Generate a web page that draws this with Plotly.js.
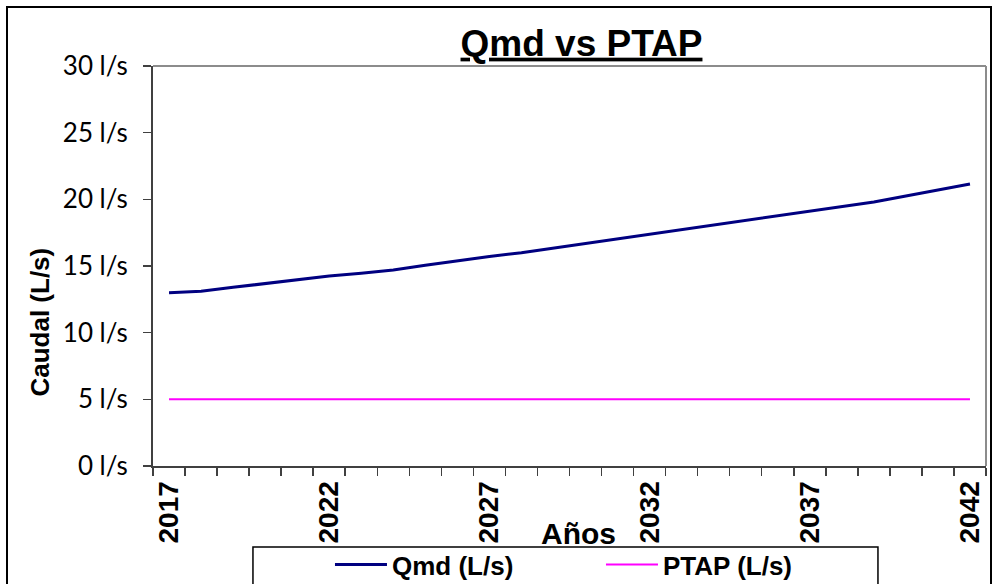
<!DOCTYPE html>
<html>
<head>
<meta charset="utf-8">
<script src="https://cdn.plot.ly/plotly-3.0.1.min.js"></script>
<style>
  html, body { margin: 0; padding: 0; background: #fff; overflow: hidden; }
  #chart { position: absolute; left: 0; top: 0; width: 993px; height: 584px; }
  #frame { position: absolute; left: 6px; top: 6px; width: 982px; height: 600px; border: 2px solid #000; pointer-events: none; }
</style>
</head>
<body>
<div id="chart"></div>
<div id="frame"></div>
<script>
const years = [2017,2018,2019,2020,2021,2022,2023,2024,2025,2026,2027,2028,2029,2030,2031,2032,2033,2034,2035,2036,2037,2038,2039,2040,2041,2042];
const qmd = [13.0,13.1,13.4,13.7,14.0,14.25,14.45,14.7,15.05,15.4,15.72,16.0,16.35,16.7,17.0,17.4,17.75,18.1,18.45,18.8,19.1,19.45,19.8,20.25,20.7,21.15];
const ptap = [5,5,5,5,5,5,5,5,5,5,5,5,5,5,5,5,5,5,5,5,5,5,5,5,5,5];
const tickYears = [2017,2022,2027,2032,2037,2042];
const yTicks = [0,5,10,15,20,25,30];

const traces = [
  { x: years, y: qmd, name: 'Qmd (L/s)', type: 'scatter', mode: 'lines',
    line: { color: '#000080', width: 3 } },
  { x: years, y: ptap, name: 'PTAP (L/s)', type: 'scatter', mode: 'lines',
    line: { color: '#FF00FF', width: 2 } }
];

const layout = {
  width: 993, height: 584,
  margin: { l: 153, r: 7, t: 66, b: 118 },
  paper_bgcolor: '#fff', plot_bgcolor: '#fff',
  showlegend: true,
  title: { text: '<b><u>Qmd vs PTAP</u></b>', xref: 'container', x: 0.5856, xanchor: 'center', y: 0.949, yanchor: 'top',
    font: { family: 'Liberation Sans, Arial, sans-serif', size: 37, color: '#000' } },
  xaxis: {
    type: 'linear', range: [2016.5, 2042.5], fixedrange: true, automargin: false,
    tickmode: 'array', tickvals: tickYears, ticktext: tickYears.map(String),
    ticks: '', tickangle: -90, ticklabelstandoff: 2,
    tickfont: { family: 'Liberation Sans, Arial, sans-serif', size: 28, color: '#000', weight: 'bold' },
    showgrid: false, zeroline: false,
    showline: true, linecolor: '#404040', linewidth: 2,
    minor: { ticks: 'outside', tick0: 2016.5, dtick: 1, ticklen: 8, tickcolor: '#404040', tickwidth: 1.5, showgrid: false }
  },
  yaxis: {
    range: [0, 30], fixedrange: true, automargin: false,
    tickmode: 'array', tickvals: yTicks, ticktext: yTicks.map(v => v + ' l/s'),
    ticks: 'outside', ticklen: 8, tickcolor: '#404040', tickwidth: 1.5, ticklabelstandoff: 10,
    tickfont: { family: 'Lato, Carlito, sans-serif', size: 26, color: '#000' },
    showgrid: false, zeroline: false,
    showline: true, linecolor: '#404040', linewidth: 2
  },
  shapes: [
    { type: 'line', xref: 'paper', yref: 'paper', x0: 0, x1: 1, y0: 1, y1: 1, line: { color: '#8c8c8c', width: 2 } },
    { type: 'line', xref: 'paper', yref: 'paper', x0: 1, x1: 1, y0: 0, y1: 1, line: { color: '#8c8c8c', width: 2 } },
    { type: 'rect', xref: 'paper', yref: 'paper', x0: 0.12, x1: 0.8703, y0: -0.2025, y1: -0.34, layer: 'above',
      line: { color: '#000', width: 1.5 } }
  ],
  annotations: [
    { text: '<b>Caudal (L/s)</b>', xref: 'paper', yref: 'paper', x: -0.1357, y: 0.361, xanchor: 'center', yanchor: 'middle',
      textangle: -90, showarrow: false, font: { family: 'Liberation Sans, Arial, sans-serif', size: 26, color: '#000' } },
    { text: '<b>Años</b>', xref: 'paper', yref: 'paper', x: 0.511, y: -0.1675, xanchor: 'center', yanchor: 'middle',
      showarrow: false, font: { family: 'Liberation Sans, Arial, sans-serif', size: 30, color: '#000' } }
  ],
  legend: {
    orientation: 'h', xref: 'container', yref: 'container', x: 0.3323, xanchor: 'left', y: 0.0736, yanchor: 'top',
    borderwidth: 0, bgcolor: 'rgba(0,0,0,0)',
    itemwidth: 52,
    entrywidth: 204, entrywidthmode: 'pixels',
    font: { family: 'Liberation Sans, Arial, sans-serif', size: 26, color: '#000', weight: 'bold' }
  }
};

Plotly.newPlot('chart', traces, layout, { displayModeBar: false, staticPlot: true });
</script>
</body>
</html>
